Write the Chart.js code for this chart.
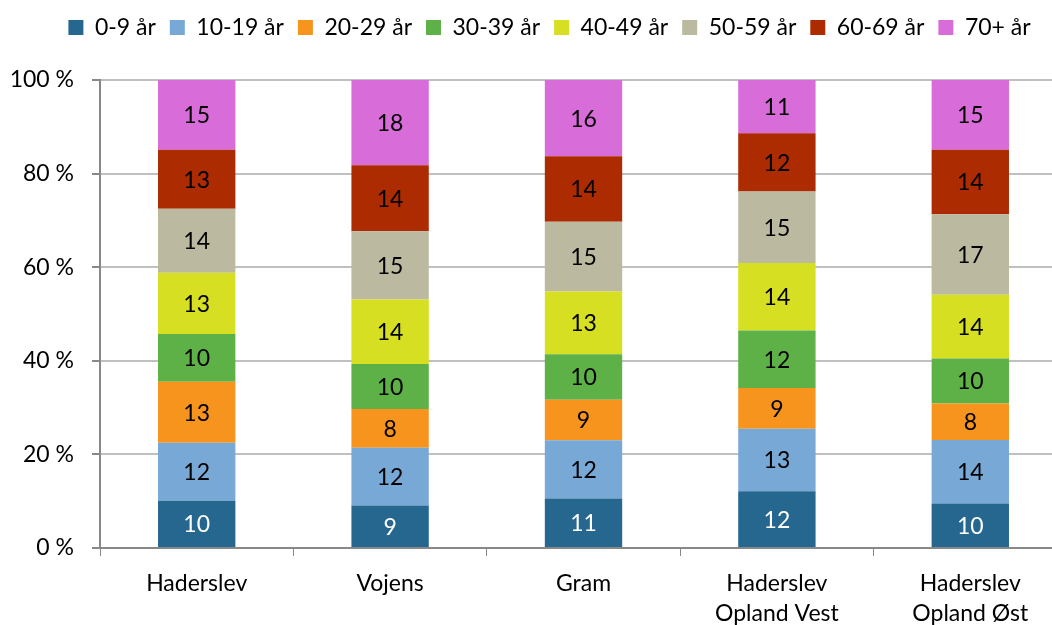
<!DOCTYPE html>
<html>
<head>
<meta charset="utf-8">
<script src="https://cdn.jsdelivr.net/npm/chart.js@4.4.1/dist/chart.umd.min.js"></script>
<style>
  html, body { margin: 0; padding: 0; background: #fff; overflow: hidden; }
  #wrap { position: absolute; left: 0; top: 0; width: 1068px; height: 625px; }
</style>
</head>
<body>
<div id="wrap"><canvas id="c" width="1068" height="625"></canvas></div>
<script>
const categories = ['Haderslev', 'Vojens', 'Gram', ['Haderslev', 'Opland Vest'], ['Haderslev', 'Opland Øst']];
const seriesNames = ['0-9 år', '10-19 år', '20-29 år', '30-39 år', '40-49 år', '50-59 år', '60-69 år', '70+ år'];
const age0_9   = [10.1, 9.1, 10.6, 12.1, 9.5];
const age10_19 = [12.4, 12.3, 12.4, 13.4, 13.6];
const age20_29 = [13.0, 8.3, 8.7, 8.7, 7.8];
const age30_39 = [10.2, 9.6, 9.7, 12.3, 9.6];
const age40_49 = [13.1, 13.8, 13.4, 14.4, 13.6];
const age50_59 = [13.7, 14.6, 14.9, 15.3, 17.2];
const age60_69 = [12.6, 14.1, 14.0, 12.4, 13.8];
const age70    = [14.9, 18.2, 16.3, 11.4, 14.9];
const yTicks = [0, 20, 40, 60, 80, 100];

const seriesValues = [age0_9, age10_19, age20_29, age30_39, age40_49, age50_59, age60_69, age70];
const colors = ['#26678F', '#77A8D6', '#F7941E', '#5EB146', '#D7DF22', '#BBBAA0', '#AC2B00', '#D86CD8'];
const labelColors = ['#FFFFFF', '#000', '#000', '#000', '#000', '#000', '#000', '#000'];
const FONT = "Lato, 'Noto Sans', sans-serif";
const FS = 23;

const segLabels = {
  id: 'segLabels',
  afterDatasetsDraw(chart) {
    const ctx = chart.ctx;
    ctx.save();
    ctx.font = FS + 'px ' + FONT;
    ctx.textAlign = 'center';
    ctx.textBaseline = 'middle';
    chart.data.datasets.forEach((ds, i) => {
      const meta = chart.getDatasetMeta(i);
      if (meta.hidden) return;
      meta.data.forEach((bar, j) => {
        const p = bar.getProps(['x', 'y', 'base'], true);
        ctx.fillStyle = labelColors[i];
        ctx.fillText(String(Math.round(ds.data[j])), p.x, (p.y + p.base) / 2 + 1);
      });
    });
    ctx.restore();
  }
};

const legendPlace = {
  id: 'legendPlace',
  afterLayout(chart) {
    const L = chart.legend;
    if (!L) return;
    const h = L.bottom - L.top;
    L.top = 2; L.bottom = 2 + h;
    const dx = 549.5 - (L.left + L.right) / 2;
    L.left += dx; L.right += dx;
  }
};

new Chart(document.getElementById('c'), {
  type: 'bar',
  data: {
    labels: categories,
    datasets: seriesNames.map((n, i) => ({
      label: n,
      data: seriesValues[i],
      backgroundColor: colors[i],
      borderWidth: 0,
      categoryPercentage: 1.0,
      barPercentage: 0.4
    }))
  },
  options: {
    responsive: false,
    animation: false,
    layout: { padding: { left: 0, right: 1, top: 33, bottom: 0 } },
    plugins: {
      legend: {
        position: 'top',
        align: 'center',
        labels: {
          boxWidth: 15, boxHeight: 15, padding: 14,
          color: '#000',
          font: { family: FONT, size: FS }
        }
      },
      tooltip: { enabled: false }
    },
    scales: {
      x: {
        stacked: true,
        offset: true,
        grid: { display: true, drawOnChartArea: false, drawTicks: true, tickLength: 8, offset: true, color: '#888888', tickColor: '#888888' },
        border: { display: true, color: '#888888', width: 2 },
        ticks: { color: '#000', font: { family: FONT, size: FS, lineHeight: 1.3 }, padding: 13, maxRotation: 0, autoSkip: false },
        afterFit(s) { s.height = 77; }
      },
      y: {
        stacked: true,
        min: 0, max: 100,
        afterBuildTicks(s) { s.ticks = yTicks.map(v => ({ value: v })); },
        grid: { color: '#C0C0C0', lineWidth: 2, tickLength: 8, tickColor: '#888888' },
        border: { display: true, color: '#888888', width: 2 },
        ticks: { color: '#000', font: { family: FONT, size: FS }, padding: 18, callback: v => v + ' %' },
        afterFit(s) { s.width = 100; }
      }
    }
  },
  plugins: [segLabels, legendPlace]
});
</script>
</body>
</html>
